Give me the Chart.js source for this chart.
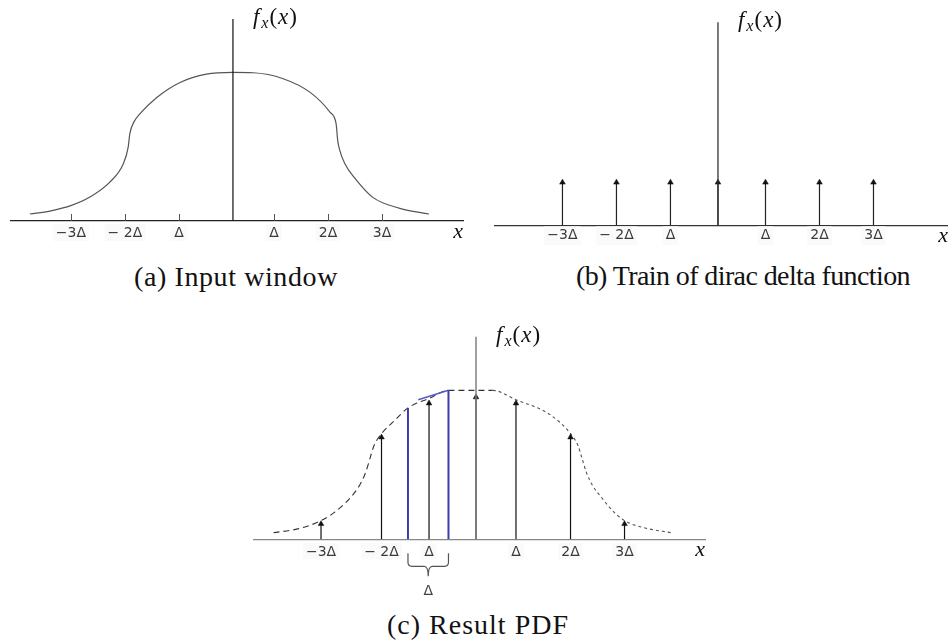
<!DOCTYPE html>
<html>
<head>
<meta charset="utf-8">
<script src="https://cdn.jsdelivr.net/npm/chart.js@4.4.1/dist/chart.umd.min.js"></script>
<style>
  html, body { margin: 0; background: #fff; width: 948px; height: 644px; overflow: hidden; }
  .box { position: absolute; }
  .cap {
    position: absolute; transform: translateX(-50%); white-space: nowrap;
    font: 28px/30px 'Liberation Serif', serif; color: #111;
  }
</style>
</head>
<body>

<div class="box" style="left:0;top:0;width:474px;height:250px"><canvas id="chartA"></canvas></div>
<div class="box" style="left:478px;top:0;width:470px;height:250px"><canvas id="chartB"></canvas></div>
<div class="box" style="left:240px;top:300px;width:480px;height:300px"><canvas id="chartC"></canvas></div>

<div class="cap" style="left:236px;top:262px;letter-spacing:0.6px">(a) Input window</div>
<div class="cap" style="left:743px;top:261px;letter-spacing:-0.6px">(b) Train of dirac delta function</div>
<div class="cap" style="left:478px;top:610px;letter-spacing:1px">(c) Result PDF</div>

<script>
// x in units of Δ, origin on the f_x(x) axis; y scaled so the window peak is 1
const TICK_LABELS = ['−3Δ', '− 2Δ', 'Δ', 'Δ', '2Δ', '3Δ']
const Y_MAX = 1.36

// (a) input window
const X_RANGE_A = [-4.11, 4.26]
const TICKS_A = [-3, -2, -1, 0.76, 1.76, 2.76]
const WIN_X = [-3.76, -3.39, -2.99, -2.65, -2.28, -2.03, -1.94, -1.91, -1.83, -1.72, -1.41, -0.98, -0.49, 0, 0.37, 0.93, 1.43, 1.80, 1.91, 1.94, 1.98, 2.07, 2.26, 2.59, 3.09, 3.63]
const WIN_Y = [0.047, 0.067, 0.105, 0.161, 0.262, 0.385, 0.497, 0.587, 0.669, 0.723, 0.832, 0.933, 0.989, 1.0, 0.998, 0.958, 0.866, 0.732, 0.656, 0.541, 0.474, 0.387, 0.287, 0.159, 0.085, 0.047]

// (b) dirac train
const X_RANGE_B = [-4.135, 4.26]
const TICKS_B = [-2.88, -1.88, -0.88, 0.88, 1.88, 2.88]
const DELTA_X = [-2.88, -1.88, -0.88, 0, 0.88, 1.88, 2.88]
const DELTA_H = [0.287, 0.287, 0.287, 0.287, 0.287, 0.287, 0.287]

// (c) sampled result
const X_RANGE_C = [-4.124, 4.24]
const TICKS_C = [-2.87, -1.75, -0.87, 0.74, 1.75, 2.75]
const PDF_X = [-3.75, -3.3, -2.87, -2.61, -2.33, -2.15, -2.04, -1.96, -1.89, -1.75, -1.50, -1.26, -0.87, -0.51, 0, 0.31, 0.74, 1.37, 1.75, 1.89, 1.96, 2.04, 2.15, 2.33, 2.55, 2.75, 3.13, 3.62]
const PDF_Y = [0.044, 0.07, 0.125, 0.184, 0.278, 0.366, 0.453, 0.547, 0.628, 0.709, 0.80, 0.882, 0.945, 1.0, 1.0, 1.0, 0.937, 0.837, 0.709, 0.628, 0.547, 0.453, 0.366, 0.278, 0.184, 0.125, 0.076, 0.044]
const SAMPLE_X = [-2.87, -1.75, -0.87, 0, 0.74, 1.75, 2.75]
const SAMPLE_H = [0.103, 0.685, 0.913, 0.954, 0.913, 0.685, 0.103]
const BIN_X = [-1.26, -0.51]
const BIN_H = [0.882, 1.0]
const BIN_TOP_X = [-1.07, -0.51]
const BIN_TOP_Y = [0.937, 1.0]

const SANS = "'DejaVu Sans', sans-serif"
const SERIF = "'Liberation Serif', 'Times New Roman', serif"

function pts(xs, ys) {
  return xs.map((x, i) => ({ x, y: ys[i] }))
}

// vertical stems separated by gaps
function stems(xs, hs) {
  return xs.flatMap((x, i) => [{ x, y: 0 }, { x, y: hs[i] }, { x, y: null }])
}

function arrowSet(data, color) {
  return {
    data, borderColor: color, borderWidth: 1.2, tension: 0, spanGaps: false,
    pointStyle: 'triangle',
    pointRadius: ctx => (ctx.raw && ctx.raw.y > 0 ? 3.3 : 0),
    pointBackgroundColor: '#111', pointBorderColor: '#111', pointBorderWidth: 0.5,
  }
}

// f_x(x) with the subscript set smaller and lower
function drawFx(ctx, x, y) {
  const parts = [
    ['italic 23px ' + SERIF, 'f', 0],
    ['italic 16px ' + SERIF, 'x', 4],
    ['23px ' + SERIF, '(', 0],
    ['italic 23px ' + SERIF, 'x', 0],
    ['23px ' + SERIF, ')', 0],
  ]
  ctx.fillStyle = '#111'
  ctx.textAlign = 'left'
  ctx.textBaseline = 'alphabetic'
  for (const [font, txt, dy] of parts) {
    ctx.font = font
    ctx.fillText(txt, x, y + dy)
    x += ctx.measureText(txt).width + (txt === 'f' ? 2 : 1)
  }
}

const axesDeco = {
  id: 'axesDeco',
  afterDatasetsDraw(chart, args, o) {
    const { ctx, chartArea: a, scales: { x } } = chart
    const x0 = x.getPixelForValue(0)
    ctx.save()

    ctx.strokeStyle = o.vColor
    ctx.lineWidth = o.vWidth
    ctx.beginPath()
    ctx.moveTo(x0, a.top)
    ctx.lineTo(x0, a.bottom)
    ctx.stroke()

    if (o.tickMarks) {
      ctx.strokeStyle = '#555'
      ctx.lineWidth = 1
      ctx.beginPath()
      x.ticks.forEach(t => {
        const px = Math.round(x.getPixelForValue(t.value)) + 0.5
        ctx.moveTo(px, a.bottom)
        ctx.lineTo(px, a.bottom - o.tickMarks)
      })
      ctx.stroke()
    }

    if (o.brace) {
      const xl = x.getPixelForValue(BIN_X[0])
      const xr = x.getPixelForValue(BIN_X[1])
      const xm = (xl + xr) / 2
      const y0 = a.bottom + 14, yh = a.bottom + 27, yt = a.bottom + 37
      ctx.strokeStyle = '#555'
      ctx.lineWidth = 1.2
      ctx.beginPath()
      ctx.moveTo(xl, y0)
      ctx.lineTo(xl, yh - 4)
      ctx.quadraticCurveTo(xl, yh, xl + 4, yh)
      ctx.lineTo(xm - 4, yh)
      ctx.quadraticCurveTo(xm, yh, xm, yt)
      ctx.moveTo(xr, y0)
      ctx.lineTo(xr, yh - 4)
      ctx.quadraticCurveTo(xr, yh, xr - 4, yh)
      ctx.lineTo(xm + 4, yh)
      ctx.quadraticCurveTo(xm, yh, xm, yt)
      ctx.stroke()
      ctx.fillStyle = '#444'
      ctx.font = '14px ' + SANS
      ctx.textAlign = 'center'
      ctx.textBaseline = 'middle'
      ctx.fillText('Δ', xm, a.bottom + 52)
    }

    drawFx(ctx, x0 + 20, a.top + 5)

    ctx.fillStyle = '#111'
    ctx.font = 'italic 22px ' + SERIF
    ctx.textAlign = 'right'
    ctx.textBaseline = 'alphabetic'
    ctx.fillText('x', a.right, a.bottom + 17)
    ctx.restore()
  }
}

function makeChart(id, datasets, range, ticks, pad, deco, axisColor, labelPad) {
  return new Chart(document.getElementById(id), {
    type: 'line',
    data: { datasets },
    plugins: [axesDeco],
    options: {
      responsive: true, maintainAspectRatio: false,
      animation: false, events: [],
      layout: { padding: pad },
      elements: { point: { radius: 0 } },
      scales: {
        x: {
          type: 'linear', min: range[0], max: range[1],
          afterBuildTicks: s => { s.ticks = ticks.map(v => ({ value: v })) },
          afterFit: s => { s.height = 20 },
          grid: { display: false, drawTicks: false },
          border: { display: true, color: axisColor, width: 1.3 },
          ticks: {
            autoSkip: false, maxRotation: 0, padding: labelPad,
            color: '#3a3a3a', font: { family: SANS, size: 14 },
            showLabelBackdrop: true, backdropColor: '#fafafa', backdropPadding: { x: 3, y: 1 },
            callback: (v, i) => TICK_LABELS[i],
          },
        },
        y: { display: false, min: 0, max: Y_MAX },
      },
      plugins: { legend: { display: false }, tooltip: { enabled: false }, axesDeco: deco },
    },
  })
}

// (a) input window
makeChart('chartA', [{
  data: pts(WIN_X, WIN_Y), borderColor: '#555', borderWidth: 1.2,
  cubicInterpolationMode: 'monotone',
}], X_RANGE_A, TICKS_A, { left: 11, right: 11, top: 19, bottom: 9 },
  { vColor: '#111', vWidth: 1.2, tickMarks: 7 }, '#222', 4)

// (b) train of dirac deltas
makeChart('chartB', [arrowSet(stems(DELTA_X, DELTA_H), '#222')],
  X_RANGE_B, TICKS_B, { left: 16.7, right: 0, top: 22.3, bottom: 4.7 },
  { vColor: '#333', vWidth: 1.3 }, '#333', 2)

// (c) sampled pdf with one bin highlighted
makeChart('chartC', [
  arrowSet(stems(SAMPLE_X, SAMPLE_H), '#111'),
  {
    data: stems(BIN_X, BIN_H), borderColor: '#3c3cb0', borderWidth: 2, tension: 0, spanGaps: false,
  },
  {
    data: pts(BIN_TOP_X, BIN_TOP_Y), borderColor: '#5a5ac0', borderWidth: 1.5, tension: 0,
  },
  {
    data: pts(PDF_X, PDF_Y), borderWidth: 1.1, cubicInterpolationMode: 'monotone',
    borderColor: '#333',
    segment: {
      borderDash: ctx => (ctx.p0.parsed.x < 0.3 ? [6, 4] : [3, 3]),
      borderColor: ctx => (ctx.p0.parsed.x < 0.3 ? '#333' : '#555'),
    },
  },
], X_RANGE_C, TICKS_C, { left: 13.3, right: 15, top: 36.7, bottom: 40.7 },
  { vColor: '#808080', vWidth: 1.5, brace: true }, '#888', 5)
</script>
</body>
</html>
